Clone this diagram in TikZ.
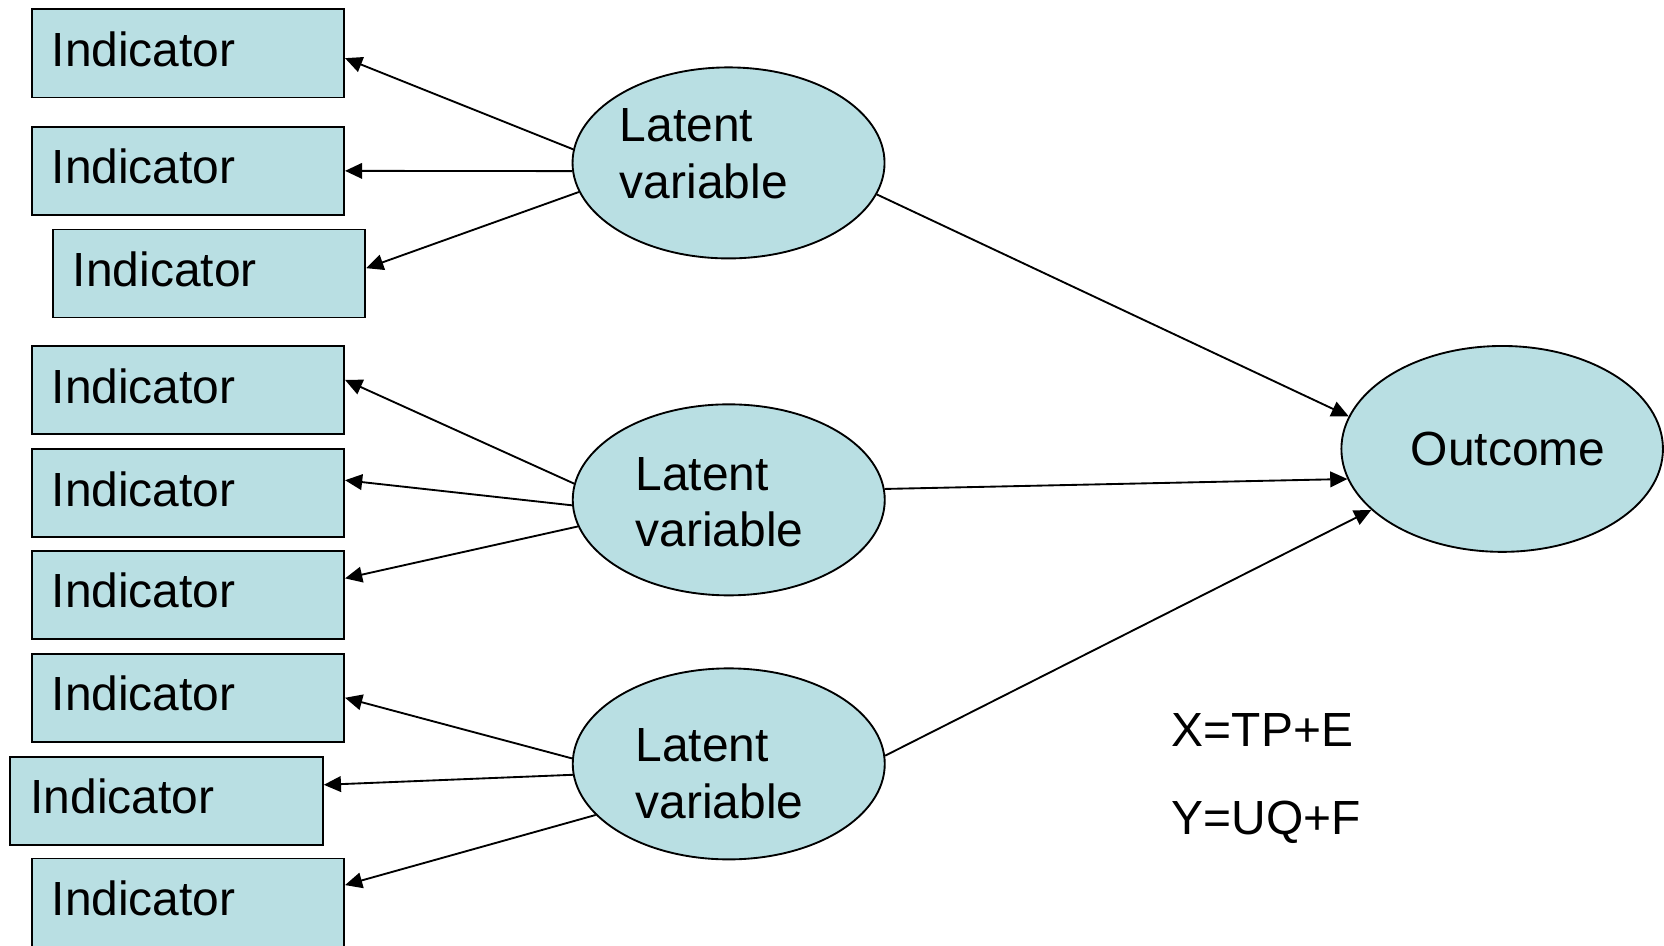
\documentclass[tikz,border=0pt]{standalone}
\usepackage{fontspec}
\setmainfont{Liberation Sans}
\usetikzlibrary{arrows.meta,shapes.geometric}

\definecolor{lvblue}{HTML}{B9DFE3}

\tikzset{
  indbox/.style={draw, fill=lvblue, line width=0.5pt, minimum height=0.83cm,
    text width=2.565cm, inner xsep=0.19cm, align=left, text depth=0.08cm},
  latent/.style={ellipse, draw, fill=lvblue, line width=0.5pt,
    minimum width=2.94cm, minimum height=1.80cm, inner sep=0pt},
  lvtext/.style={inner sep=0pt, align=left, anchor=north west},
  arr/.style={-{Triangle[length=4.6pt,width=4.2pt]}, line width=0.5pt},
}

\begin{document}
\begin{tikzpicture}[font=\fontsize{12.85}{15.2}\selectfont]
\useasboundingbox (0,0) rectangle (15.68,-8.91);

% Indicators
\node[indbox] (i1) at (1.77,-0.503) {Indicator};
\node[indbox] (i2) at (1.77,-1.61) {Indicator};
\node[indbox] (i3) at (1.97,-2.577) {Indicator};
\node[indbox] (i4) at (1.77,-3.675) {Indicator};
\node[indbox] (i5) at (1.77,-4.645) {Indicator};
\node[indbox] (i6) at (1.77,-5.605) {Indicator};
\node[indbox] (i7) at (1.77,-6.575) {Indicator};
\node[indbox] (i8) at (1.57,-7.545) {Indicator};
\node[indbox] (i9) at (1.77,-8.505) {Indicator};

% Latent variables
\node[latent] (lv1) at (6.865,-1.535) {};
\node[latent] (lv2) at (6.867,-4.71) {};
\node[latent] (lv3) at (6.867,-7.198) {};
\node[lvtext] (lv1t) at (5.835,-1.02) {Latent\\variable};
\node[lvtext] (lv2t) at (5.982,-4.30) {Latent\\variable};
\node[lvtext] (lv3t) at (5.982,-6.862) {Latent\\variable};

% Outcome
\node[latent, minimum width=3.03cm, minimum height=1.94cm] (out) at (14.155,-4.23) {};
\node[inner sep=0pt] (outt) at (14.21,-4.23) {Outcome};

% Loadings
\draw[arr] (lv1.175) -- ([yshift=-0.045cm]i1.east);
\draw[arr] (lv1.183) -- (i2.east);
\draw[arr] (lv1.191) -- ([yshift=0.05cm]i3.east);
\draw[arr] (lv2.174) -- ([yshift=0.095cm]i4.east);
\draw[arr] (lv2.182) -- ([yshift=0.12cm]i5.east);
\draw[arr] (lv2.190) -- ([yshift=0.155cm]i6.east);
\draw[arr] (lv3.178) -- (i7.east);
\draw[arr] (lv3.184) -- ([yshift=0.15cm]i8.east);
\draw[arr] (lv3.201) -- ([yshift=0.165cm]i9.east);

% Paths to outcome
\draw[arr] (lv1.348) -- (out.168);
\draw[arr] (lv2.4) -- (out.191);
\draw[arr] (lv3.3) -- (out.205);

% Equations
\node[anchor=base west, inner sep=0pt] (eqx) at (11.035,-7.036) {X=TP+E};
\node[anchor=base west, inner sep=0pt] (eqy) at (11.035,-7.86) {Y=UQ+F};
\end{tikzpicture}
\end{document}
